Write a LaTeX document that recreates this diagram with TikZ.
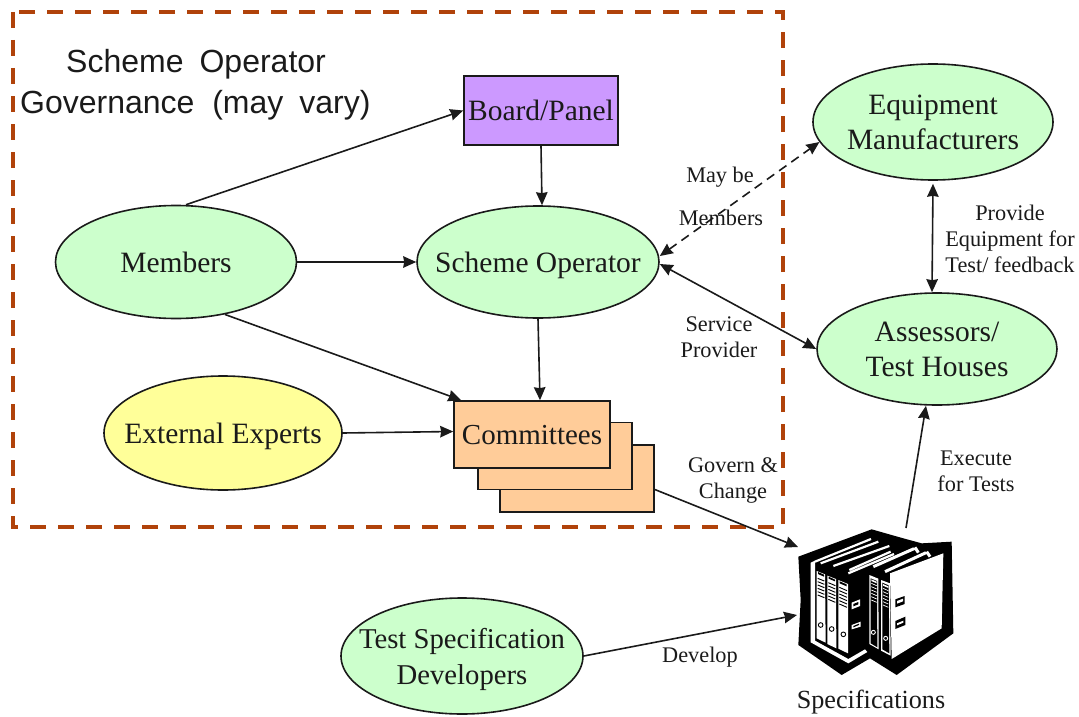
\documentclass[tikz,border=0pt]{standalone}
\usepackage{fontspec}
\setmainfont{Liberation Serif}
\newfontfamily\headfont{Liberation Sans}
\usetikzlibrary{arrows.meta,shapes.geometric}
\definecolor{rust}{HTML}{B0420A}
\definecolor{mint}{HTML}{CCFFCC}
\definecolor{lemon}{HTML}{FFFF99}
\definecolor{peach}{HTML}{FFCC99}
\definecolor{lilac}{HTML}{CC99FF}
\definecolor{ink}{HTML}{1A1A1A}
\newcommand{\bigtxt}{\fontsize{29.5}{36}\selectfont}
\newcommand{\smalltxt}{\fontsize{22.3}{26}\selectfont}
\tikzset{
  x=1pt,y=-1pt,
  oval/.style={ellipse,draw=ink,line width=1.6pt,inner xsep=-40pt,inner ysep=-25pt,align=center,font=\bigtxt,text=ink,text depth=0pt},
  greenoval/.style={oval,fill=mint},
  card/.style={rectangle,draw=ink,line width=1.6pt,fill=peach,inner sep=0pt,font=\bigtxt,text=ink,text depth=0pt},
  conn/.style={draw=ink,line width=1.6pt,-{Stealth[length=13pt,width=11.5pt,inset=1pt]}},
  both/.style={conn,{Stealth[length=13pt,width=11.5pt,inset=1pt]}-{Stealth[length=13pt,width=11.5pt,inset=1pt]}},
  lab/.style={align=center,font=\smalltxt,text=ink,inner sep=0pt},
  head/.style={font=\headfont\fontsize{32}{38}\selectfont,text=ink,inner sep=0pt,anchor=west},
  wht/.style={fill=white,draw=none},
  blk/.style={fill=black,draw=none}
}
\begin{document}
\begin{tikzpicture}
\useasboundingbox (0,0) rectangle (1079,717);
\draw[rust,line width=3.6pt,dash pattern=on 16pt off 12pt] (13,12) rectangle (783,527);
\node[head] (h1) at (66,64) {Scheme\hspace{16pt}Operator};
\node[head] (h2) at (20,105) {Governance\ \ (may\hspace{16pt}vary)};
\node[card,fill=lilac,minimum width=154pt,minimum height=69pt] (board) at (541,110.5) {Board/Panel};
\node[greenoval,minimum width=241pt,minimum height=113pt] (members) at (176,262) {Members};
\node[greenoval,minimum width=242pt,minimum height=112pt] (operator) at (538,262) {Scheme Operator};
\node[oval,fill=lemon,minimum width=238pt,minimum height=114pt] (experts) at (223,433) {External Experts};
\node[card,minimum width=154pt,minimum height=67pt] (c3) at (577,478.5) {};
\node[card,minimum width=154pt,minimum height=67pt] (c2) at (555,456) {};
\node[card,minimum width=156pt,minimum height=67pt,font=\fontsize{29}{36}\selectfont] (c1) at (532,434.5) {Committees};
\node[greenoval,minimum width=240pt,minimum height=116pt] (equip) at (933,122) {Equipment\\[-1pt]Manufacturers};
\node[greenoval,minimum width=240pt,minimum height=112pt] (assess) at (937,349) {Assessors/\\[-1pt]Test Houses};
\node[greenoval,minimum width=242pt,minimum height=116pt,font=\fontsize{28.7}{36}\selectfont] (dev) at (462,656) {Test Specification\\Developers};
% binder icon
\begin{scope}[shift={(770,510)},scale=1/3]
\fill[blk] (85,140)--(305,58)--(400,85)--(455,100)--(545,95)--(550,370)--(380,495)--(300,445)--(215,495)--(85,405)--(92,270)--cycle;
\fill[wht] (122,158)--(135,152)--(135,392)--(235,447)--(285,418)--(292,426)--(235,460)--(122,397)--cycle;
\fill[wht] (140,183)--(165,193)--(167,398)--(140,385)--cycle;
\fill[wht] (172,197)--(198,207)--(199,415)--(172,402)--cycle;
\fill[wht] (205,210)--(234,222)--(234,430)--(205,416)--cycle;
\fill[wht] (360,190)--(520,130)--(515,355)--(365,447)--cycle;
\fill[wht] (298,195)--(325,206)--(326,418)--(298,402)--cycle;
\fill[wht] (333,210)--(360,220)--(362,437)--(333,422)--cycle;
\fill[blk] (302,205)--(321,213)--(322,412)--(302,400)--cycle;
\fill[blk] (337,218)--(356,226)--(358,430)--(337,418)--cycle;
\foreach \y in {0,10,...,50}{
  \draw[black,line width=.9pt] (143,205+\y)--(163,213+\y) (175,218+\y)--(196,227+\y) (208,232+\y)--(231,242+\y);
  \draw[white,line width=.7pt] (304,220+\y)--(320,227+\y) (339,235+\y)--(355,242+\y);
}
\fill[blk] (144,186)--(162,194)--(162,200)--(144,192)--cycle (176,200)--(195,209)--(195,214)--(176,206)--cycle (209,214)--(230,223)--(230,229)--(209,220)--cycle;
\fill[wht] (304,208)--(320,215)--(320,220)--(304,213)--cycle (339,222)--(355,229)--(355,234)--(339,227)--cycle;
\foreach \p/\q in {152/345,185/357,220/373}{\draw[black,line width=.9pt] (\p,\q) circle (7);}
\foreach \p/\q in {310/367,347/385}{\draw[white,line width=.9pt] (\p,\q) circle (6);}
\fill[wht] (245,278)--(270,268)--(270,288)--(245,298)--cycle (245,345)--(272,335)--(272,350)--(245,358)--cycle;
\fill[blk] (250,282)--(265,276)--(265,283)--(250,289)--cycle (250,348)--(267,341)--(267,345)--(250,352)--cycle;
\fill[blk] (376,268)--(404,258)--(404,282)--(376,292)--cycle (376,333)--(406,320)--(406,345)--(376,357)--cycle;
\fill[wht] (381,273)--(399,266)--(399,274)--(381,281)--cycle (381,340)--(400,332)--(400,338)--(381,346)--cycle;
\draw[white,line width=2.2pt] (135,155)--(303,87) (152,160)--(325,95) (190,168)--(358,108) (235,190)--(372,132) (238,180)--(362,125);
\draw[white,line width=3pt] (310,170)--(432,116) (345,185)--(468,128) (435,112)--(445,128) (470,125)--(480,140);
\end{scope}
\node[lab,font=\fontsize{26.2}{30}\selectfont] (specLabel) at (871,702) {Specifications};
% labels
\node[lab] (l1) at (720,177) {May be};
\node[lab] (l2) at (721,218) {Members};
\node[lab] (l3) at (719,337) {Service\\Provider};
\node[lab] (l4) at (1010,239) {Provide\\Equipment for\\Test/ feedback};
\node[lab] (l5) at (733,480) {Govern \&\\Change};
\node[lab] (l6) at (976,471) {Execute\\for Tests};
\node[lab] (l7) at (700,657) {Develop};
% connectors
\coordinate (specIn1) at (798,547);
\coordinate (specIn2) at (797,615);
\coordinate (specOut) at (906,528);
\draw[conn] ([xshift=10pt]members.north) -- (board.west);
\draw[conn] (board.south) -- ([xshift=4pt]operator.north);
\draw[conn] (members.east) -- (operator.west);
\draw[conn] (members.-47) -- ([xshift=8pt]c1.north west);
\draw[conn] (operator.south) -- ([xshift=8pt]c1.north);
\draw[conn] (experts.east) -- ([yshift=3pt]c1.west);
\draw[conn] ([yshift=-11pt]c3.east) -- (specIn1);
\draw[conn] (dev.east) -- (specIn2);
\draw[conn] (specOut) -- ([xshift=-11pt]assess.south);
\draw[both] ([yshift=-3pt]equip.south) -- ([xshift=-5pt]assess.north);
\draw[both] ([yshift=-2pt]operator.east) -- (assess.west);
\draw[both,dash pattern=on 9pt off 6pt] ([yshift=6pt]operator.east) -- (equip.190);
\end{tikzpicture}
\end{document}
